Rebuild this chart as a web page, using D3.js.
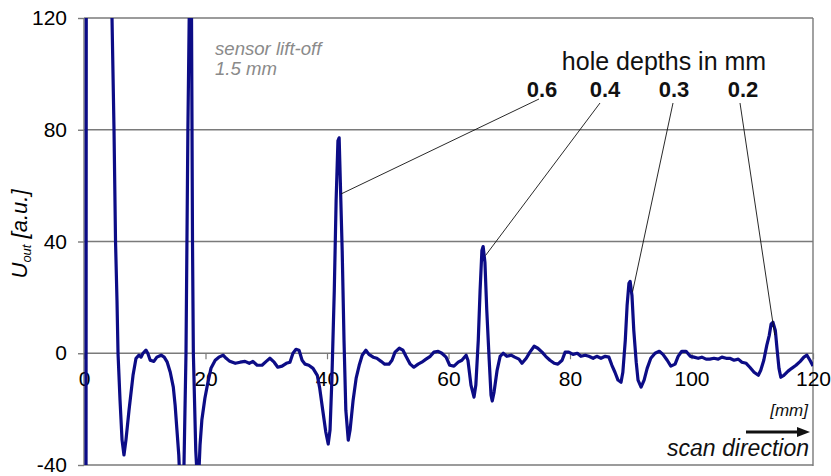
<!DOCTYPE html>
<html>
<head>
<meta charset="utf-8">
<script src="https://cdn.jsdelivr.net/npm/d3@7"></script>
<style>
  html, body { margin: 0; padding: 0; background: #fff; }
  text { font-family: "Liberation Sans", Arial, Helvetica, sans-serif; }
</style>
</head>
<body>
<svg id="chart" width="831" height="476"></svg>
<script>
// Scan position along the sample [mm]
const positions = [
  0, 0.3, 0.4, 4.0, 4.61, 4.94, 5.19, 5.43, 5.6, 5.93, 6.26, 6.58, 6.91, 7.41, 8.07, 8.56,
  9.05, 9.38, 9.71, 10.2, 10.5, 10.9, 11.5, 12.0, 12.7, 13.2, 13.7, 14.2, 14.7, 15.0, 15.3,
  15.6, 15.97, 16.46, 16.79, 17.1, 17.37, 17.53, 17.7, 17.86, 18.0, 18.4, 18.77, 19.1, 19.4,
  19.9, 20.4, 20.9, 21.6, 22.2, 22.9, 23.4, 24.0, 24.9, 25.7, 26.5, 27.2, 27.8, 28.5, 29.3,
  30.0, 30.6, 31.3, 31.9, 32.6, 33.3, 33.9, 34.4, 34.9, 35.4, 35.9, 36.4, 37.0, 37.7, 38.4,
  38.8, 39.3, 39.8, 40.2, 40.5, 40.8, 41.2, 41.5, 41.8, 42.0, 42.1, 42.5, 42.8, 43.1, 43.5,
  43.8, 44.3, 44.8, 45.3, 45.8, 46.4, 46.9, 47.6, 48.2, 48.9, 49.5, 50.2, 50.7, 51.2, 51.9,
  52.5, 53.0, 53.7, 54.3, 55.0, 55.6, 56.3, 57.0, 57.6, 58.3, 58.9, 59.6, 60.2, 60.9, 61.6,
  62.2, 62.9, 63.2, 63.7, 64.2, 64.5, 64.9, 65.2, 65.5, 65.7, 66.0, 66.3, 66.7, 67.0, 67.2,
  67.5, 68.0, 68.5, 69.0, 69.6, 70.3, 70.9, 71.6, 72.1, 72.8, 73.4, 74.1, 74.7, 75.4, 76.0,
  76.7, 77.4, 78.0, 78.7, 79.2, 79.8, 80.5, 81.2, 81.8, 82.5, 83.1, 83.8, 84.4, 85.1, 85.8,
  86.4, 86.9, 87.4, 87.9, 88.4, 88.7, 89.1, 89.4, 89.7, 89.9, 90.2, 90.5, 90.9, 91.2, 91.7,
  92.2, 92.7, 93.3, 94.0, 94.7, 95.3, 96.0, 96.6, 97.3, 97.8, 98.4, 99.1, 99.8, 100.4, 101.1,
  101.7, 102.4, 103.0, 103.7, 104.4, 105.0, 105.7, 106.3, 107.0, 107.7, 108.3, 109.0, 109.6,
  110.3, 111.0, 111.4, 111.9, 112.4, 112.8, 113.1, 113.4, 113.8, 114.1, 114.4, 114.7, 115.2,
  115.9, 116.5, 117.2, 117.9, 118.5, 119.0, 119.5, 120
];

// Sensor output U_out [a.u.]
const signal = [
  -200, -200, 250, 300, 120, 80, 40, 19, 0, -16.8, -31, -36.4, -31, -20.4, -7.9, -1.8,
  -0.7, -1.4, 0, 1.1, 0, -2.5, -2.9, -1.4, -0.7, -1.4, -3.2, -6.8, -12.1, -18.6, -27.5,
  -36.4, -55, -40, 0, 80, 130, 135, 120, 40, 0, -35, -50, -32.9, -23.9,
  -16.1, -10.4, -5.4, -2.5, -1.4, -0.7, -1.8, -2.9, -3.6, -3.2, -2.9, -3.6, -2.9, -4.3, -4.3,
  -2.9, -1.8, -3.2, -5.0, -4.6, -3.6, -3.2, 0, 1.4, 1.1, -2.5, -3.9, -4.3, -5.4, -7.9,
  -12.5, -20.4, -28.2, -32.5, -27.5, -9.6, 22.5, 54.6, 76, 77.1, 69, 36.8, 4.6, -20.4, -31.1,
  -27.5, -16.8, -8.9, -4.3, -0.7, 1.1, -0.4, -1.4, -1.8, -2.9, -3.9, -3.9, -2.5, 0.4, 1.8,
  1.1, -1.1, -3.9, -5.0, -3.9, -3.2, -2.1, -1.1, 0.4, 0.7, 0, -1.4, -4.3, -4.6, -3.2,
  -2.5, -0.7, -2.5, -11.4, -15.7, -11.4, 4.6, 22.5, 36.8, 38.2, 32.5, 15.4, -2.5, -15.0, -17.1,
  -13.9, -6.1, -1.1, 0, -1.1, -0.7, -1.4, -2.1, -3.6, -1.8, 0.4, 2.5, 1.8, 0.4, -1.1,
  -2.5, -3.6, -3.9, -2.5, 0.4, 0.4, -0.4, 0, -1.1, -0.7, -1.1, -1.8, -1.1, -1.8, -1.1,
  -1.4, -4.3, -6.8, -9.6, -10.4, -6.8, 4.6, 17.1, 25.0, 25.7, 20.7, 8.2, -3.2, -9.6, -12.1,
  -9.6, -5.4, -1.8, 0, 0.7, -0.4, -2.5, -4.6, -3.9, -1.1, 0.7, 0.7, -1.1, -1.4, -1.8,
  -1.4, -2.1, -2.1, -1.8, -2.1, -1.4, -1.8, -1.8, -2.5, -2.1, -3.2, -3.6, -5.0,
  -6.8, -7.9, -6.1, -2.5, 2.9, 6.4, 10.4, 11.1, 8.2, 1.1, -5.4, -8.6, -7.9,
  -6.4, -5.4, -4.3, -2.9, -1.4, -0.7, -2.5, -4.6
];

const xTicks = [0, 20, 40, 60, 80, 100, 120];
const yTicks = [-40, 0, 40, 80, 120];

// Hole depth labels and the signal peak each one points at
const holeLabels = ["0.6", "0.4", "0.3", "0.2"];
const holeTargetX = [42.3, 66.1, 90.3, 113.7];
const holeTargetY = [57, 35, 22, 6.5];

const svg = d3.select("#chart");
const plotLeft = 84, plotRight = 813, plotTop = 18, plotBottom = 465;

const x = d3.scaleLinear().domain([0, 120]).range([plotLeft, plotRight]);
const y = d3.scaleLinear().domain([-40, 120]).range([plotBottom, plotTop]);

const grid = "#7a7a7a";
const plainNumber = d => String(d);

// horizontal gridlines
svg.append("g").selectAll("line").data(yTicks).join("line")
  .attr("x1", plotLeft).attr("x2", plotRight)
  .attr("y1", d => y(d)).attr("y2", d => y(d))
  .attr("stroke", grid).attr("stroke-width", 1.4);

// plot frame (left axis and right edge)
svg.append("line").attr("x1", plotLeft).attr("x2", plotLeft).attr("y1", plotTop).attr("y2", plotBottom)
  .attr("stroke", grid).attr("stroke-width", 1.4);
svg.append("line").attr("x1", plotRight).attr("x2", plotRight).attr("y1", plotTop).attr("y2", plotBottom + 1)
  .attr("stroke", grid).attr("stroke-width", 1.4);

// y axis
const yAxis = d3.axisLeft(y).tickValues(yTicks).tickFormat(plainNumber).tickSize(6).tickPadding(11);
const gy = svg.append("g").attr("transform", `translate(${plotLeft},0)`).call(yAxis);
gy.select(".domain").remove();
gy.selectAll(".tick line").attr("stroke", grid).attr("stroke-width", 1.4);
gy.selectAll(".tick text").attr("font-size", 21).attr("fill", "#000")
  .attr("font-family", "'Liberation Sans', Arial, sans-serif");

// x axis drawn on the zero line
const xAxis = d3.axisBottom(x).tickValues(xTicks).tickFormat(plainNumber).tickSize(6).tickPadding(12);
const gx = svg.append("g").attr("transform", `translate(0,${y(0)})`).call(xAxis);
gx.select(".domain").remove();
gx.selectAll(".tick line").attr("stroke", grid).attr("stroke-width", 1.2);
gx.selectAll(".tick text").attr("font-size", 21).attr("fill", "#000")
  .attr("font-family", "'Liberation Sans', Arial, sans-serif");

// signal trace
svg.append("clipPath").attr("id", "plotClip")
  .append("rect").attr("x", plotLeft).attr("y", plotTop)
  .attr("width", plotRight - plotLeft).attr("height", plotBottom - plotTop);

const pts = positions.map((p, i) => [p, signal[i]]);
const line = d3.line().x(d => x(d[0])).y(d => y(d[1]));
svg.append("path")
  .datum(pts)
  .attr("clip-path", "url(#plotClip)")
  .attr("d", line)
  .attr("fill", "none")
  .attr("stroke", "#0c0c86")
  .attr("stroke-width", 3.2)
  .attr("stroke-linejoin", "round");

// y axis title: U_out [a.u.]
const yt = svg.append("text")
  .attr("transform", "translate(27,234) rotate(-90)")
  .attr("text-anchor", "middle")
  .attr("font-size", 22).attr("font-style", "italic").attr("fill", "#000");
yt.append("tspan").text("U");
yt.append("tspan").attr("font-size", 13).attr("dy", 4).text("out");
yt.append("tspan").attr("dy", -4).text(" [a.u.]");

// lift-off note
svg.append("text").attr("x", 215).attr("y", 55)
  .attr("font-size", 18.6).attr("font-style", "italic").attr("fill", "#8a8a8a")
  .text("sensor lift-off");
svg.append("text").attr("x", 215).attr("y", 75)
  .attr("font-size", 18.6).attr("font-style", "italic").attr("fill", "#8a8a8a")
  .text("1.5 mm");

// hole depth annotations
svg.append("text").attr("x", 664).attr("y", 70).attr("text-anchor", "middle")
  .attr("font-size", 25).attr("fill", "#111").text("hole depths in mm");

const labelX = [542, 605, 674, 743];
const lineStartX = [539, 600, 673, 740];
holeLabels.forEach((lab, i) => {
  svg.append("text").attr("x", labelX[i]).attr("y", 97).attr("text-anchor", "middle")
    .attr("font-size", 22).attr("font-weight", "bold").attr("fill", "#111").text(lab);
  svg.append("line")
    .attr("x1", lineStartX[i]).attr("y1", i === 0 ? 99 : 103)
    .attr("x2", x(holeTargetX[i])).attr("y2", y(holeTargetY[i]))
    .attr("stroke", "#111").attr("stroke-width", 0.9);
});

// unit and scan direction
svg.append("text").attr("x", 808).attr("y", 416).attr("text-anchor", "end")
  .attr("font-size", 17).attr("font-style", "italic").attr("fill", "#111").text("[mm]");

svg.append("line").attr("x1", 746).attr("x2", 799).attr("y1", 432).attr("y2", 432)
  .attr("stroke", "#111").attr("stroke-width", 3);
svg.append("path").attr("d", "M797,427 L810,432 L797,437 Z").attr("fill", "#111");

svg.append("text").attr("x", 809).attr("y", 456).attr("text-anchor", "end")
  .attr("font-size", 23).attr("font-style", "italic").attr("fill", "#111").text("scan direction");
</script>
</body>
</html>
